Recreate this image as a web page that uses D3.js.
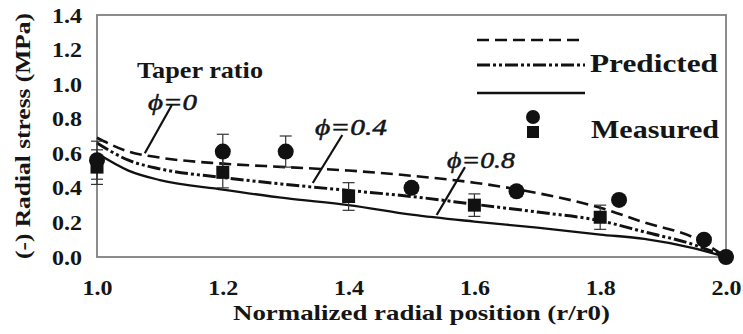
<!DOCTYPE html>
<html>
<head>
<meta charset="utf-8">
<script src="https://cdn.jsdelivr.net/npm/d3@7"></script>
<style>
  body { margin: 0; background: #fff; }
</style>
</head>
<body>
<svg id="chart" width="743" height="334"></svg>
<script>
// predicted curves (r/r0, radial stress)
var predX = [1.0, 1.05, 1.1, 1.2, 1.3, 1.4, 1.5, 1.6, 1.7, 1.8, 1.87, 1.95, 2.0];
var phi0  = [0.69, 0.61, 0.575, 0.54, 0.52, 0.50, 0.47, 0.43, 0.37, 0.285, 0.20, 0.11, 0.0];
var phi04 = [0.66, 0.56, 0.51, 0.46, 0.42, 0.385, 0.35, 0.305, 0.26, 0.21, 0.145, 0.07, 0.0];
var phi08 = [0.60, 0.50, 0.445, 0.39, 0.34, 0.30, 0.245, 0.205, 0.17, 0.13, 0.105, 0.05, 0.0];

// measured, circles
var circX   = [1.0, 1.2, 1.3, 1.5, 1.667, 1.83, 1.965, 2.0];
var circY   = [0.56, 0.61, 0.61, 0.40, 0.38, 0.33, 0.10, 0.0];
var circErr = [0.11, 0.10, 0.09, 0.03, 0.03, 0, 0, 0];
// measured, squares
var sqX   = [1.0, 1.2, 1.4, 1.6, 1.8];
var sqY   = [0.52, 0.49, 0.35, 0.30, 0.23];
var sqErr = [0.10, 0.09, 0.08, 0.065, 0.07];

var xTicks = [1.0, 1.2, 1.4, 1.6, 1.8, 2.0];
var yTicks = [0.0, 0.2, 0.4, 0.6, 0.8, 1.0, 1.2, 1.4];

var FONT = "'Liberation Serif'";

var svg = d3.select("#chart").style("font-family", FONT);
var mL = 97, mR = 726, mT = 15, mB = 257;

var x = d3.scaleLinear().domain([1, 2]).range([mL, mR]);
var y = d3.scaleLinear().domain([0, 1.4]).range([mB, mT]);

// text in the source is a bit stretched sideways, so fit widths
var label = function(sel, str, size, len, opts){
  opts = opts || {};
  var t = sel.append("text").text(str)
    .style("font-family", FONT)
    .style("font-size", size + "px")
    .style("font-weight", opts.italic ? "normal" : "bold")
    .style("font-style", opts.italic ? "italic" : "normal")
    .attr("fill", "#151515");
  if (len) t.attr("textLength", len).attr("lengthAdjust", "spacingAndGlyphs");
  return t;
};

// frame
svg.append("rect")
  .attr("x", mL).attr("y", mT)
  .attr("width", mR - mL).attr("height", mB - mT)
  .attr("fill", "none").attr("stroke", "#808080").attr("stroke-width", 1.8);

// axes (labels only, no tick marks)
var xAxis = svg.append("g").attr("transform", "translate(0," + mB + ")")
  .call(d3.axisBottom(x).tickValues(xTicks).tickFormat(d3.format(".1f")).tickSize(0).tickPadding(0));
xAxis.select(".domain").remove();
xAxis.selectAll(".tick text").remove();
xAxis.selectAll(".tick").each(function(d){
  label(d3.select(this), d3.format(".1f")(d), 21, 30).attr("y", 38).attr("dy", null).attr("text-anchor", "middle");
});

var yAxis = svg.append("g").attr("transform", "translate(" + mL + ",0)")
  .call(d3.axisLeft(y).tickValues(yTicks).tickFormat(d3.format(".1f")).tickSize(0).tickPadding(0));
yAxis.select(".domain").remove();
yAxis.selectAll(".tick text").remove();
yAxis.selectAll(".tick").each(function(d){
  label(d3.select(this), d3.format(".1f")(d), 21, 30).attr("x", -15).attr("y", 7).attr("text-anchor", "end");
});

label(svg, "Normalized radial position (r/r0)", 22, 377).attr("x", 233).attr("y", 320);

label(svg, "(-) Radial stress (MPa)", 21, 246)
  .attr("transform", "translate(30,259) rotate(-90)");

// predicted lines
var line = d3.line()
  .x(function(d){ return x(d[0]); })
  .y(function(d){ return y(d[1]); })
  .curve(d3.curveMonotoneX);

var dashA = "12,6", dashB = "13,3,3,3,3,3";
var series = [
  {vals: phi0,  dash: dashA, w: 2.6},
  {vals: phi04, dash: dashB, w: 3},
  {vals: phi08, dash: null,  w: 2.3}
];
series.forEach(function(s){
  var pts = predX.map(function(v, i){ return [v, s.vals[i]]; });
  svg.append("path")
    .attr("d", line(pts))
    .attr("fill", "none").attr("stroke", "#111").attr("stroke-width", s.w)
    .attr("stroke-dasharray", s.dash);
});

// error bars
var drawErr = function(xs, ys, es){
  for (var i = 0; i < xs.length; i++){
    if (!es[i]) continue;
    var cx = x(xs[i]), y1 = y(ys[i] - es[i]), y2 = y(ys[i] + es[i]);
    var g = svg.append("g").attr("stroke", "#333").attr("stroke-width", 1.2);
    g.append("line").attr("x1", cx).attr("x2", cx).attr("y1", y1).attr("y2", y2);
    g.append("line").attr("x1", cx - 6).attr("x2", cx + 6).attr("y1", y1).attr("y2", y1);
    g.append("line").attr("x1", cx - 6).attr("x2", cx + 6).attr("y1", y2).attr("y2", y2);
  }
};
drawErr(circX, circY, circErr);
drawErr(sqX, sqY, sqErr);

svg.selectAll("rect.sq").data(sqX).enter().append("rect")
  .attr("class", "sq")
  .attr("x", function(d){ return x(d) - 6.5; })
  .attr("y", function(d, i){ return y(sqY[i]) - 6.5; })
  .attr("width", 13).attr("height", 13).attr("fill", "#111");

svg.selectAll("circle.pt").data(circX).enter().append("circle")
  .attr("class", "pt")
  .attr("cx", function(d){ return x(d); })
  .attr("cy", function(d, i){ return y(circY[i]); })
  .attr("r", 8).attr("fill", "#111");

// annotations
label(svg, "Taper ratio", 23, 126).attr("x", 137).attr("y", 78);

var notes = [
  {t: "\u03D5=0",   tx: 148, ty: 110, len: 49, a: [1.119, 0.879], b: [1.076, 0.60]},
  {t: "\u03D5=0.4", tx: 315, ty: 135, len: 72, a: [1.39, 0.706],  b: [1.343, 0.428]},
  {t: "\u03D5=0.8", tx: 447, ty: 168, len: 68, a: [1.585, 0.52],  b: [1.54, 0.243]}
];
notes.forEach(function(n){
  label(svg, n.t, 23, n.len, {italic: true}).attr("x", n.tx).attr("y", n.ty)
    .attr("stroke", "#151515").attr("stroke-width", 0.5);
  svg.append("line")
    .attr("x1", x(n.a[0])).attr("y1", y(n.a[1]))
    .attr("x2", x(n.b[0])).attr("y2", y(n.b[1]))
    .attr("stroke", "#111").attr("stroke-width", 2.2);
});

// legend
var lg = svg.append("g");
[{yy: 40, dash: dashA, w: 2.6}, {yy: 65, dash: dashB, w: 3}, {yy: 93, dash: null, w: 2.3}].forEach(function(l){
  lg.append("line").attr("x1", 477).attr("x2", 585).attr("y1", l.yy).attr("y2", l.yy)
    .attr("stroke", "#111").attr("stroke-width", l.w).attr("stroke-dasharray", l.dash);
});
label(lg, "Predicted", 25, 128).attr("x", 590).attr("y", 72);
lg.append("circle").attr("cx", 533).attr("cy", 117).attr("r", 7).attr("fill", "#111");
lg.append("rect").attr("x", 527).attr("y", 126).attr("width", 12).attr("height", 12).attr("fill", "#111");
label(lg, "Measured", 25, 128).attr("x", 591).attr("y", 138);
</script>
</body>
</html>
